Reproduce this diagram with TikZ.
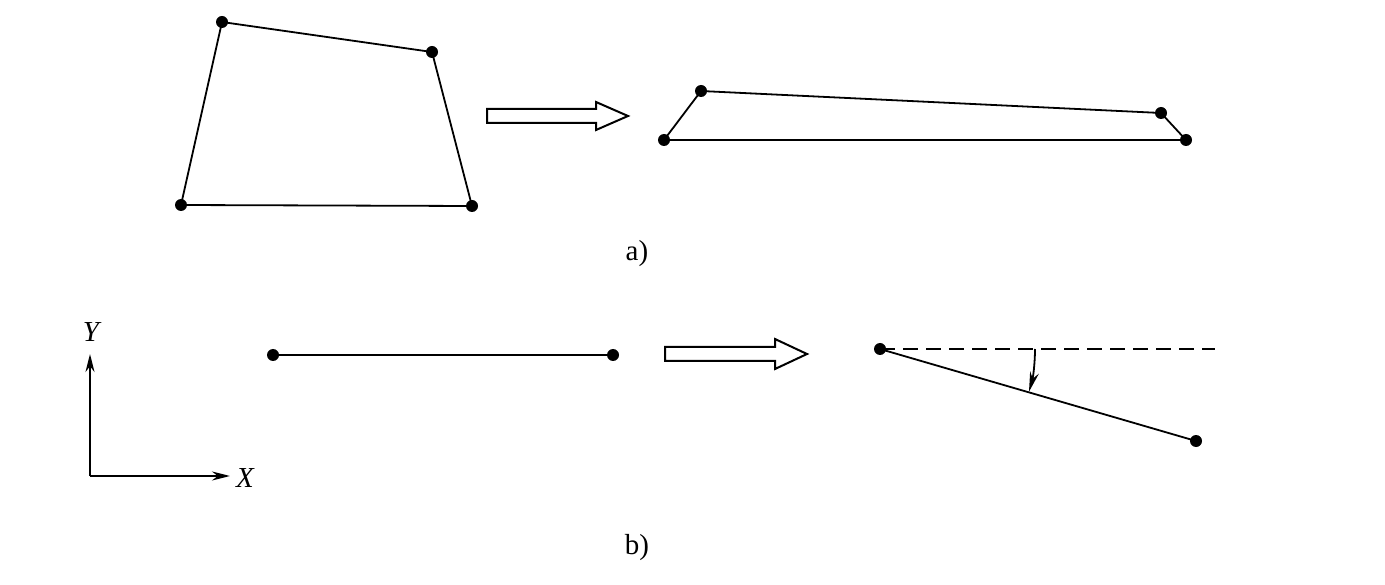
\documentclass[tikz,border=0pt]{standalone}
\usepackage{fontspec}
\setmainfont{Liberation Serif}
\usetikzlibrary{arrows.meta}
\begin{document}
\begin{tikzpicture}[x=1pt,y=-1pt,
  edge/.style={line width=1.8pt},
  pt/.style={circle,fill=black,inner sep=0pt,minimum size=12pt},
  blockarrow/.style={line width=2pt,fill=white,line join=miter},
  axis/.style={line width=2pt,-{Stealth[length=18pt,width=9pt]}},
  lab/.style={font=\fontsize{29}{32}\selectfont},
  axlab/.style={font=\fontsize{29}{32}\selectfont\itshape}]
\useasboundingbox (0,0) rectangle (1385,585);
% a) left quadrilateral
\coordinate (A1) at (222,22);
\coordinate (A2) at (432,52);
\coordinate (A3) at (472,206);
\coordinate (A4) at (181,205);
\draw[edge] (A1) -- (A2) -- (A3) -- (A4) -- cycle;
\foreach \p in {A1,A2,A3,A4} \node[pt] at (\p) {};
% a) block arrow
\draw[blockarrow] (487,109) -- (596,109) -- (596,102) -- (628,116) -- (596,130) -- (596,123) -- (487,123) -- cycle;
% a) right quadrilateral
\coordinate (B1) at (701,91);
\coordinate (B2) at (1161,113);
\coordinate (B3) at (1186,140);
\coordinate (B4) at (664,140);
\draw[edge] (B1) -- (B2) -- (B3) -- (B4) -- cycle;
\foreach \p in {B1,B2,B3,B4} \node[pt] at (\p) {};
\node[lab] (la) at (637,254) {a)};
% b) axes
\coordinate (O) at (90,476);
\coordinate (Yt) at (90,354);
\coordinate (Xt) at (230,476);
\draw[axis] (O) -- (Yt);
\draw[axis] (O) -- (Xt);
\node[axlab] (ly) at (91,332) {Y};
\node[axlab] (lx) at (245,478) {X};
% b) left segment
\coordinate (C1) at (273,355);
\coordinate (C2) at (613,355);
\draw[edge] (C1) -- (C2);
\foreach \p in {C1,C2} \node[pt] at (\p) {};
% b) block arrow
\draw[blockarrow] (665,347) -- (775,347) -- (775,339) -- (807,354) -- (775,369) -- (775,361) -- (665,361) -- cycle;
% b) rotated segment
\coordinate (D1) at (880,349);
\coordinate (D2) at (1196,441);
\coordinate (De) at (1215,349);
\draw[edge,dashed,dash pattern=on 15pt off 8pt] (D1) -- (De);
\draw[edge] (D1) -- (D2);
\foreach \p in {D1,D2} \node[pt] at (\p) {};
\draw[line width=1.8pt,-{Stealth[length=20pt,width=9pt]}] ([shift={(0:155)}]D1) arc[start angle=0,end angle=16,radius=155];
\node[lab] (lb) at (637,548) {b)};
\end{tikzpicture}
\end{document}
